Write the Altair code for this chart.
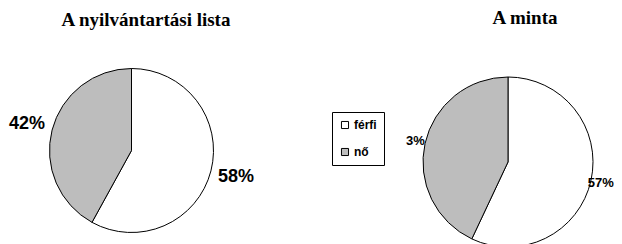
import altair as alt
import pandas as pd

categories = ["férfi", "nő"]
list_values = [58, 42]
sample_values = [57, 43]
list_labels = ["58%", "42%"]
sample_labels = ["57%", "3%"]
titles = ["A nyilvántartási lista", "A minta"]

OFF = 8
W, H = 606, 236

color = alt.Color(
    "cat:N",
    scale=alt.Scale(domain=categories, range=["#ffffff", "#bdbdbd"]),
    legend=alt.Legend(
        title=None, orient="none", legendX=332 - OFF, legendY=112 - OFF,
        strokeColor="black", padding=7, symbolType="square", symbolSize=50,
        symbolStrokeColor="black", symbolStrokeWidth=1, rowPadding=15,
        labelFontSize=12, labelFontWeight="bold", labelColor="black",
        labelFont="Liberation Sans", symbolOffset=0, labelOffset=3,
    ),
)


def pie(values, labels, cx, cy, r, lr, fs):
    df = pd.DataFrame({"cat": categories, "value": values, "label": labels,
                       "order": list(range(len(categories)))})
    base = alt.Chart(df).encode(
        theta=alt.Theta("value:Q", stack=True),
        order=alt.Order("order:Q"),
        x=alt.value(cx - OFF), y=alt.value(cy - OFF),
    )
    arc = base.mark_arc(radius=r, stroke="black", strokeWidth=1).encode(color=color)
    txt = base.mark_text(radius=lr, fontSize=fs, fontWeight="bold",
                         font="Liberation Sans", align="center",
                         baseline="middle", color="black").encode(text="label:N")
    return arc + txt


def title(t, cx, by):
    return alt.Chart(pd.DataFrame({"t": [t]})).mark_text(
        font="Liberation Serif", fontSize=19, fontWeight="bold",
        align="center", baseline="alphabetic", color="black",
    ).encode(text="t:N", x=alt.value(cx - OFF), y=alt.value(by - OFF))


chart = alt.layer(
    pie(list_values, list_labels, 131.5, 150.5, 82, 108, 18),
    pie(sample_values, sample_labels, 508, 162, 85, 95, 13),
    title(titles[0], 146, 26),
    title(titles[1], 525, 24),
).properties(
    width=W, height=H, padding=0, autosize=alt.AutoSizeParams(type="none")
).configure_view(stroke=None)

chart.save("out.html", embed_options={"renderer": "svg", "actions": False})
